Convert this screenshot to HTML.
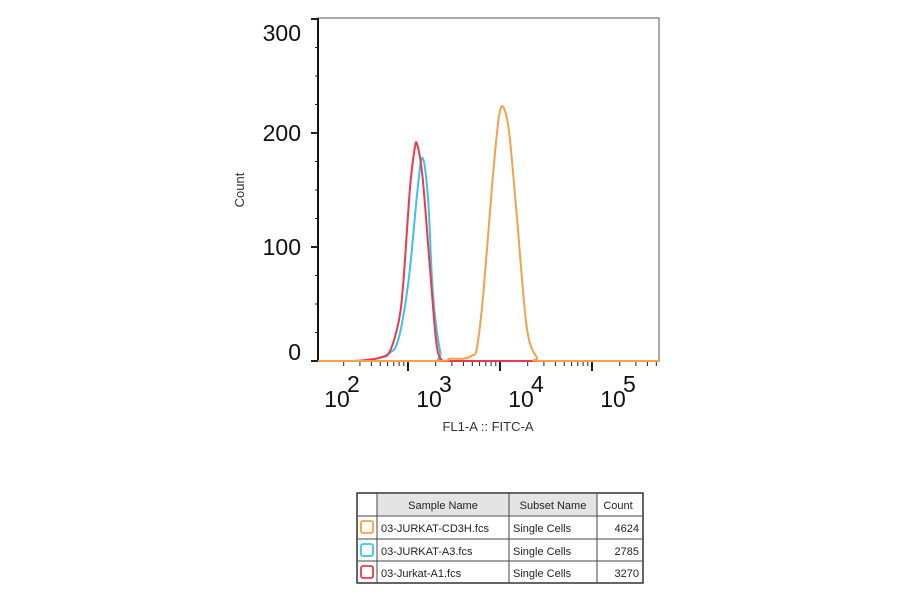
<!DOCTYPE html>
<html><head><meta charset="utf-8"><style>
body{margin:0;background:#fff;width:900px;height:594px;overflow:hidden;font-family:"Liberation Sans",sans-serif}
</style></head><body>
<svg id="chart" width="900" height="594" xmlns="http://www.w3.org/2000/svg" font-family="Liberation Sans, sans-serif"></svg>
<script>
const yTicks=[0,100,200,300];
const xDecades=[2,3,4,5];
const redX=[1.7,2.4,2.55,2.7,2.8,2.9,2.95,3.02,3.07,3.1,3.16,3.24,3.31,3.38,3.5,5.73];
const redY=[0,0,1,3,8,35,70,150,185,190,160,80,15,0,0,0];
const cyanX=[1.7,2.5,2.66,2.8,2.88,2.95,3.02,3.11,3.16,3.22,3.27,3.35,3.42,4.4,5.73];
const cyanY=[0,0,2,7,15,40,80,155,178,140,60,8,0,0,0];
const orangeX=[1.7,3.3,3.45,3.6,3.7,3.75,3.82,3.92,3.99,4.04,4.1,4.18,4.29,4.4,4.47,5.73];
const orangeY=[0,0,2,2,5,12,60,160,215,222,200,130,30,3,0,0];
const legendNames=["03-JURKAT-CD3H.fcs","03-JURKAT-A3.fcs","03-Jurkat-A1.fcs"];
const legendCounts=["4624","2785","3270"];
const legendColors=["#f5a04a","#3cc3ea","#ec3a4a"];

const NS="http://www.w3.org/2000/svg";
const svg=document.getElementById('chart');
const L=318,R=659,T=18,B=361;
const xs=v=>316+(v-2)*92;
const ys=v=>361-v*1.14;
function mk(t,a,p){const e=document.createElementNS(NS,t);for(const k in a)e.setAttribute(k,a[k]);(p||svg).appendChild(e);return e;}

let f=mk('rect',{x:L,y:T,width:R-L,height:B-T,fill:'none',stroke:'#555','stroke-width':1});


let ax=mk('line',{x1:L,y1:T,x2:L,y2:B,stroke:'#111','stroke-width':2});


let bx=mk('line',{x1:L,y1:B,x2:R,y2:B,stroke:'#111','stroke-width':2});



for(let v=0;v<=300;v+=25){mk('line',{x1:L-(v%100?3:7),y1:ys(v),x2:L,y2:ys(v),stroke:'#222','stroke-width':v%100?1:2});}
yTicks.forEach(v=>{
 const dy=v==300?22:(v==0?-1:8);
 const t=mk('text',{x:L-17,y:ys(v)+dy,'text-anchor':'end','font-size':23,fill:'#111'});
 t.textContent=v;
 
 
});
for(let d=1;d<=5;d++){for(let m=1;m<10;m++){const lv=d+Math.log10(m);const x=xs(lv);if(x<L||x>R)continue;
 mk('line',{x1:x,y1:B,x2:x,y2:B+(m==1?10:5),stroke:'#222','stroke-width':m==1?2:1});}}
xDecades.forEach(d=>{
 const t=mk('text',{x:xs(d)+21,y:B+46,'text-anchor':'middle','font-size':23,fill:'#111'});
 t.textContent='10';
 
 
 const s=mk('text',{x:xs(d)+31,y:B+31,'font-size':23,fill:'#111'});
 s.textContent=d;
 
 
});
let xt=mk('text',{x:488,y:431,'text-anchor':'middle','font-size':13,fill:'#333'});
xt.textContent='FL1-A :: FITC-A';


let yt=mk('text',{x:244,y:190,'text-anchor':'middle','font-size':13,fill:'#333',transform:'rotate(-90 244 190)'});
yt.textContent='Count';



function series(X,Y,c,name){
 const P=X.map((x,i)=>[Math.max(L,Math.min(R,xs(x))),ys(Y[i])]);
 let d='M'+P[0][0]+','+P[0][1];
 for(let i=0;i<P.length-1;i++){
  const p0=P[Math.max(0,i-1)],p1=P[i],p2=P[i+1],p3=P[Math.min(P.length-1,i+2)];
  const c1=[p1[0]+(p2[0]-p0[0])/6,p1[1]+(p2[1]-p0[1])/6];
  const c2=[p2[0]-(p3[0]-p1[0])/6,p2[1]-(p3[1]-p1[1])/6];
  c1[1]=Math.min(c1[1],B);c2[1]=Math.min(c2[1],B);
  d+=' C'+c1.join(',')+' '+c2.join(',')+' '+p2.join(',');
 }
 const p=mk('path',{d:d,fill:'none',stroke:c,'stroke-width':2,'stroke-linejoin':'round'});
 
 
}
series(cyanX,cyanY,legendColors[1],'series-jurkat-a3');
series(redX,redY,legendColors[2],'series-jurkat-a1');
series(orangeX,orangeY,legendColors[0],'series-jurkat-cd3h');

const g=mk('g',{});


const cols=[357,377,509,597,643];
const rows=[493,516,539,561,583];
mk('rect',{x:377,y:494,width:220,height:21,fill:'#e4e4e4'},g);
mk('rect',{x:357,y:493,width:286,height:90,fill:'none',stroke:'#333','stroke-width':1.5},g);
cols.slice(1,4).forEach(x=>mk('line',{x1:x,y1:493,x2:x,y2:583,stroke:'#444','stroke-width':1},g));
rows.slice(1,4).forEach(y=>mk('line',{x1:357,y1:y,x2:643,y2:y,stroke:'#444','stroke-width':1},g));
const hdr=[["Sample Name",443,'middle'],["Subset Name",553,'middle'],["Count",618,'middle']];
hdr.forEach(h=>{const t=mk('text',{x:h[1],y:509,'text-anchor':h[2],'font-size':11,fill:'#222'},g);t.textContent=h[0];
 
 });
legendNames.forEach((n,i)=>{
 const y0=rows[i+1];
 const b=mk('rect',{x:361,y:y0+5,width:12,height:12,rx:2,fill:'none',stroke:legendColors[i],'stroke-width':1.8},g);
 
 
 const t=mk('text',{x:381,y:y0+16,'font-size':11,fill:'#222'},g);t.textContent=n;
 
 
 const s=mk('text',{x:513,y:y0+16,'font-size':11,fill:'#222'},g);s.textContent='Single Cells';
 
 
 const c=mk('text',{x:639,y:y0+16,'text-anchor':'end','font-size':11,fill:'#222'},g);c.textContent=legendCounts[i];
 
 
});
</script>
</body></html>
